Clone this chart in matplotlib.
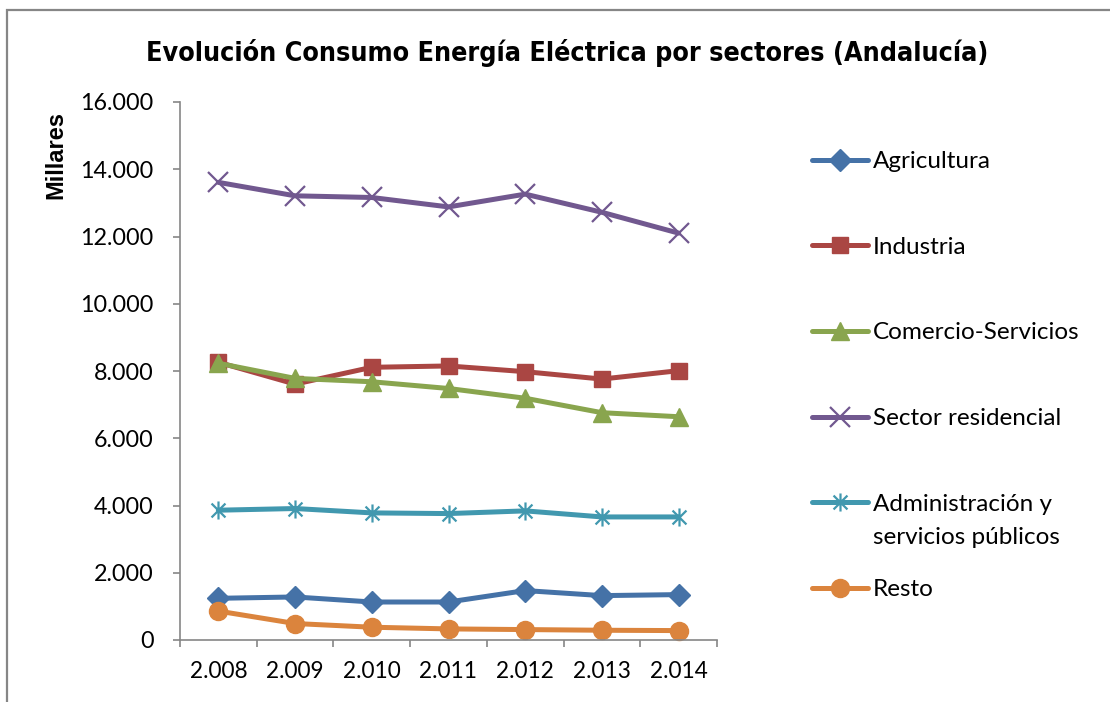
import matplotlib
matplotlib.use('Agg')
import matplotlib.pyplot as plt
from matplotlib.path import Path
from matplotlib.patches import Rectangle
from matplotlib.ticker import FuncFormatter, FixedLocator

# data (in units)
years = ['2.008', '2.009', '2.010', '2.011', '2.012', '2.013', '2.014']
agricultura = [1240, 1280, 1130, 1130, 1470, 1320, 1350]
industria = [8260, 7610, 8110, 8150, 7980, 7760, 8010]
comercio = [8230, 7780, 7680, 7480, 7190, 6760, 6640]
residencial = [13610, 13210, 13160, 12880, 13260, 12720, 12100]
administracion = [3860, 3910, 3780, 3760, 3840, 3660, 3660]
resto = [860, 490, 380, 330, 310, 290, 280]

labels = ['Agricultura', 'Industria', 'Comercio-Servicios', 'Sector residencial',
          'Administración y', 'Resto']

# excel style "x with vertical bar" marker
star_path = Path([(-1, -1), (1, 1), (-1, 1), (1, -1), (0, -1.3), (0, 1.3)],
                 [Path.MOVETO, Path.LINETO, Path.MOVETO, Path.LINETO, Path.MOVETO, Path.LINETO])

series = [
    (agricultura, '#4572A7', 'D', 11, 1),
    (industria, '#AA4643', 's', 12, 1),
    (comercio, '#89A54E', '^', 13, 1),
    (residencial, '#71588F', 'x', 14, 1.6),
    (administracion, '#4198AF', star_path, 13, 1.6),
    (resto, '#DB843D', 'o', 13, 1),
]

plt.rcParams['font.family'] = ['Lato', 'DejaVu Sans']

fig = plt.figure(figsize=(11.1, 7.02), dpi=100)
ax = fig.add_axes([180 / 1110, 62 / 702, 537 / 1110, 538 / 702])

x = list(range(len(years)))
handles = []
for (vals, color, marker, ms, mew), lab in zip(series, labels):
    ln, = ax.plot(x, vals, color=color, lw=3.6, marker=marker, ms=ms,
                  mfc=color, mec=color, mew=mew, label=lab, clip_on=False,
                  solid_joinstyle='round', solid_capstyle='round')
    handles.append(ln)

ax.set_xlim(-0.5, len(years) - 0.5)
ax.set_ylim(0, 16000)
ax.set_yticks(range(0, 16001, 2000))
ax.yaxis.set_major_formatter(FuncFormatter(lambda v, p: f'{int(v):,}'.replace(',', '.')))

# ticks on category boundaries, labels at centres
ax.xaxis.set_major_locator(FixedLocator([i - 0.5 for i in range(len(years) + 1)]))
ax.set_xticklabels([])
ax.set_xticks(x, minor=True)
ax.set_xticklabels(years, minor=True)
ax.tick_params(axis='x', which='minor', length=0, pad=15, labelsize=16.3)
ax.tick_params(axis='x', which='major', length=5, width=1.2, color='#868686')
ax.tick_params(axis='y', length=5, width=1.2, color='#868686', pad=14, labelsize=16.8)

for side in ['top', 'right']:
    ax.spines[side].set_visible(False)
for side in ['left', 'bottom']:
    ax.spines[side].set_color('#868686')
    ax.spines[side].set_linewidth(1.2)

fig.text(0.511, 0.925, 'Evolución Consumo Energía Eléctrica por sectores (Andalucía)',
         ha='center', va='center', fontsize=19.3, fontweight='bold', fontstretch='condensed',
         family=['Liberation Sans Narrow', 'DejaVu Sans'])
fig.text(56 / 1110, 1 - 155 / 702, 'Millares', rotation=90, ha='center', va='center',
         fontsize=17, fontweight='bold', family=['Liberation Sans', 'DejaVu Sans'])

leg = fig.legend(handles=handles, loc='upper left', bbox_to_anchor=(812 / 1110, 1 - 151 / 702),
                 frameon=False, fontsize=17.5, handlelength=2.3, handletextpad=0.2,
                 labelspacing=2.66, borderpad=0, borderaxespad=0)

# chart border (left and top only visible)
fig.patches.append(Rectangle((6.5 / 1110, -0.1), 1.2, 1 - 9.5 / 702 + 0.1,
                             transform=fig.transFigure, fill=False,
                             edgecolor='#868686', lw=1.6))

fig.canvas.draw()
bb = leg.get_texts()[4].get_window_extent().transformed(fig.transFigure.inverted())
fig.text(bb.x0, (bb.y0 + bb.y1) / 2 - 33 / 702, 'servicios públicos', ha='left',
         va='center', fontsize=17.5)

fig.savefig('out.png', dpi=100)
plt.close(fig)
